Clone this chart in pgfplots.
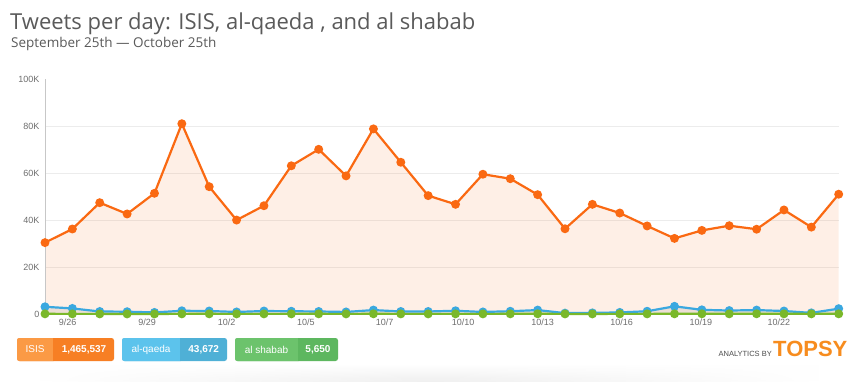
\documentclass[border=0pt]{standalone}
\usepackage{pgfplots}
\pgfplotsset{compat=1.18}
\usepackage{pgfplotstable}
\usepackage{fontspec}
\setmainfont{Liberation Sans}
\newfontfamily\osans{Open Sans}
\usetikzlibrary{shadings,fadings}
\definecolor{isisline}{RGB}{250,105,18}
\definecolor{qline}{RGB}{58,168,224}
\definecolor{sline}{RGB}{122,184,42}
\definecolor{gridc}{RGB}{236,236,236}
\definecolor{ticktext}{RGB}{110,110,110}
\definecolor{titlec}{RGB}{90,90,90}
\definecolor{isisA}{RGB}{251,154,69}
\definecolor{isisB}{RGB}{247,127,36}
\definecolor{qA}{RGB}{92,195,236}
\definecolor{qB}{RGB}{79,176,214}
\definecolor{sA}{RGB}{108,195,108}
\definecolor{sB}{RGB}{93,183,95}
\definecolor{topsy}{RGB}{247,140,30}
\tikzfading[name=fadesides, left color=transparent!100, right color=transparent!100, middle color=transparent!0]

\pgfplotstableread{
x isis qaeda shabab
0 30500 3200 200
1 36300 2500 180
2 47500 1200 170
3 42700 1100 160
4 51500 800 150
5 81100 1500 190
6 54300 1400 200
7 40100 1000 170
8 46200 1400 180
9 63200 1300 190
10 70200 1200 200
11 58900 1000 170
12 78900 1800 210
13 64700 1200 180
14 50500 1200 170
15 46800 1500 190
16 59600 1000 180
17 57700 1300 200
18 50900 1800 220
19 36400 500 170
20 46800 600 160
21 43100 800 180
22 37600 1300 190
23 32300 3400 200
24 35700 1900 210
25 37700 1600 200
26 36200 1800 220
27 44400 1400 200
28 37100 600 190
29 51100 2400 200
}\data

\begin{document}
\begin{tikzpicture}
\useasboundingbox (0pt,0pt) rectangle (862pt,381pt);
\fill[white] (0pt,0pt) rectangle (862pt,381pt);
% bottom shadow
\shade[top color=white, bottom color=black!6, path fading=fadesides] (40pt,0pt) rectangle (820pt,17pt);

\node[anchor=base west, inner sep=0, text=titlec, font=\osans\fontsize{22}{26}\selectfont] at (10pt,351pt) {Tweets per day: ISIS, al-qaeda , and al shabab};
\node[anchor=base west, inner sep=0, text=titlec, font=\osans\fontsize{13.5}{16}\selectfont] at (11pt,333.5pt) {September 25th — October 25th};

\begin{axis}[
  at={(45pt,66.7pt)}, anchor=south west,
  scale only axis, width=793.7pt, height=235pt,
  xmin=0, xmax=29, ymin=0, ymax=100000,
  clip=false,
  axis line style={draw=none},
  major tick length=0,
  xtick={0.83,3.73,6.64,9.53,12.41,15.28,18.18,21.07,23.96,26.81},
  xticklabels={9/26,9/29,10/2,10/5,10/7,10/10,10/13,10/16,10/19,10/22},
  ytick={0,20000,40000,60000,80000,100000},
  yticklabels={0,20K,40K,60K,80K,100K},
  scaled y ticks=false,
  tick label style={font=\fontsize{9}{10}\selectfont, text=ticktext},
  yticklabel style={xshift=-2pt},
  xticklabel style={yshift=-1pt},
]
\pgfplotsinvokeforeach{20000,40000,60000,80000}{
  \draw[gridc, line width=1pt] (axis cs:0,#1) -- (axis cs:29,#1);
}
\addplot[draw=none, fill=isisline, fill opacity=0.1] table[x=x,y=isis]{\data} \closedcycle;
\addplot[draw=none, fill=black, fill opacity=0.07] table[x=x,y=qaeda]{\data} \closedcycle;
\draw[black!22, line width=0.8pt] (axis cs:0,0) -- (axis cs:0,100000);
\addplot[isisline, line width=2.2pt, mark=*, mark size=3.3pt, mark options={solid}] table[x=x,y=isis]{\data};
\addplot[qline, line width=2.2pt, mark=*, mark size=3.3pt] table[x=x,y=qaeda]{\data};
\addplot[sline, line width=2.2pt, mark=*, mark size=3.3pt] table[x=x,y=shabab]{\data};
\end{axis}

% legend boxes
\begin{scope}[font=\fontsize{10}{12}\selectfont, text=white]
\fill[isisB, rounded corners=2.5pt] (17pt,20pt) rectangle (114pt,43pt);
\fill[isisA, rounded corners=2.5pt] (17pt,20pt) rectangle (56pt,43pt);
\fill[isisB] (53.3pt,20pt) rectangle (57pt,43pt);
\node at (35pt,31.5pt) {ISIS};
\node at (84pt,31.5pt) {\bfseries 1,465,537};

\fill[qB, rounded corners=2.5pt] (122pt,20pt) rectangle (227pt,43pt);
\fill[qA, rounded corners=2.5pt] (122pt,20pt) rectangle (183pt,43pt);
\fill[qB] (180.3pt,20pt) rectangle (184pt,43pt);
\node at (151pt,31.5pt) {al-qaeda};
\node at (203.7pt,31.5pt) {\bfseries 43,672};

\fill[sB, rounded corners=2.5pt] (235pt,20pt) rectangle (338pt,43pt);
\fill[sA, rounded corners=2.5pt] (235pt,20pt) rectangle (301pt,43pt);
\fill[sB] (297.7pt,20pt) rectangle (302pt,43pt);
\node at (266.5pt,31.5pt) {al shabab};
\node at (318pt,31.5pt) {\bfseries 5,650};
\end{scope}

\node[anchor=base east, inner sep=0, text=black!70, font=\fontsize{7.5}{9}\selectfont] at (772pt,24.5pt) {ANALYTICS BY};
\node[anchor=base west, inner sep=0, text=topsy, font=\bfseries\fontsize{22}{24}\selectfont] at (773pt,24.5pt) {TOPSY};
\end{tikzpicture}
\end{document}
